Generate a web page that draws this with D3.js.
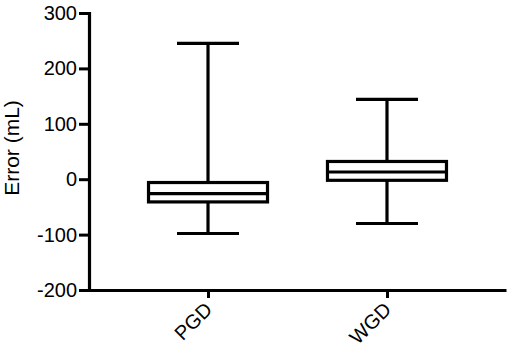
<!DOCTYPE html>
<html>
<head>
<meta charset="utf-8">
<script src="https://cdn.jsdelivr.net/npm/d3@7"></script>
<style>
  body { margin: 0; background: #fff; }
  text { font-family: "Liberation Sans", Arial, sans-serif; fill: #000; }
</style>
</head>
<body>
<div id="chart"></div>
<script>
// box plot values (mL)
var groups = ["PGD", "WGD"];
var whiskerLow = [-98, -80];
var quart1 = [-41, -2];
var medians = [-26, 13];
var quart3 = [-6, 32];
var whiskerHigh = [245, 144];
var yTicks = [-200, -100, 0, 100, 200, 300];

var width = 510, height = 351;
var margin = { top: 13, right: 4, bottom: 61, left: 89 };

var svg = d3.select("#chart").append("svg")
    .attr("width", width)
    .attr("height", height);

var x = d3.scalePoint()
    .domain(groups)
    .range([margin.left, width - margin.right])
    .padding(0.665);

var y = d3.scaleLinear()
    .domain([-200, 300])
    .range([height - margin.bottom, margin.top]);

var data = groups.map(function(g, i) {
    return { name: g, lo: whiskerLow[i], q1: quart1[i], med: medians[i], q3: quart3[i], hi: whiskerHigh[i] };
});

var boxW = 119, capW = 62;

// y axis (plain hyphen for negatives, like the original)
var yAxis = svg.append("g")
    .attr("transform", `translate(${margin.left},0)`)
    .call(d3.axisLeft(y).tickValues(yTicks).tickFormat(d => String(d))
        .tickSize(10).tickPadding(2).tickSizeOuter(0));
yAxis.select(".domain").attr("stroke-width", 3.2).attr("stroke-linecap", "square");
yAxis.selectAll(".tick line").attr("stroke-width", 3);
yAxis.selectAll("text").style("font-size", "20px");

// x axis
var xAxis = svg.append("g")
    .attr("transform", `translate(0,${height - margin.bottom})`)
    .call(d3.axisBottom(x).tickSize(8).tickSizeOuter(0));
xAxis.select(".domain").attr("stroke-width", 3.2);
xAxis.selectAll(".tick line").attr("stroke-width", 3);
xAxis.selectAll("text")
    .style("font-size", "20px")
    .attr("text-anchor", "end")
    .attr("dy", "0.7em")
    .attr("y", 0)
    .attr("transform", "translate(-5,11) rotate(-45)");

// y label
svg.append("text")
    .attr("transform", "translate(19,148) rotate(-90)")
    .attr("text-anchor", "middle")
    .style("font-size", "21px")
    .text("Error (mL)");

var box = svg.selectAll(".box")
    .data(data)
    .enter()
    .append("g")
    .attr("class", "box")
    .attr("stroke", "#000")
    .attr("stroke-width", 3.2)
    .attr("fill", "none");

// whisker lines
box.append("line")
    .attr("x1", d => x(d.name)).attr("x2", d => x(d.name))
    .attr("y1", d => y(d.hi)).attr("y2", d => y(d.q3));
box.append("line")
    .attr("x1", d => x(d.name)).attr("x2", d => x(d.name))
    .attr("y1", d => y(d.q1)).attr("y2", d => y(d.lo));

// caps
box.append("line")
    .attr("x1", d => x(d.name) - capW / 2).attr("x2", d => x(d.name) + capW / 2)
    .attr("y1", d => y(d.hi)).attr("y2", d => y(d.hi));
box.append("line")
    .attr("x1", d => x(d.name) - capW / 2).attr("x2", d => x(d.name) + capW / 2)
    .attr("y1", d => y(d.lo)).attr("y2", d => y(d.lo));

// box
box.append("rect")
    .attr("x", d => x(d.name) - boxW / 2)
    .attr("width", boxW)
    .attr("y", d => y(d.q3))
    .attr("height", d => y(d.q1) - y(d.q3))
    .attr("fill", "#fff");

// median
box.append("line")
    .attr("x1", d => x(d.name) - boxW / 2).attr("x2", d => x(d.name) + boxW / 2)
    .attr("y1", d => y(d.med)).attr("y2", d => y(d.med));
</script>
</body>
</html>
